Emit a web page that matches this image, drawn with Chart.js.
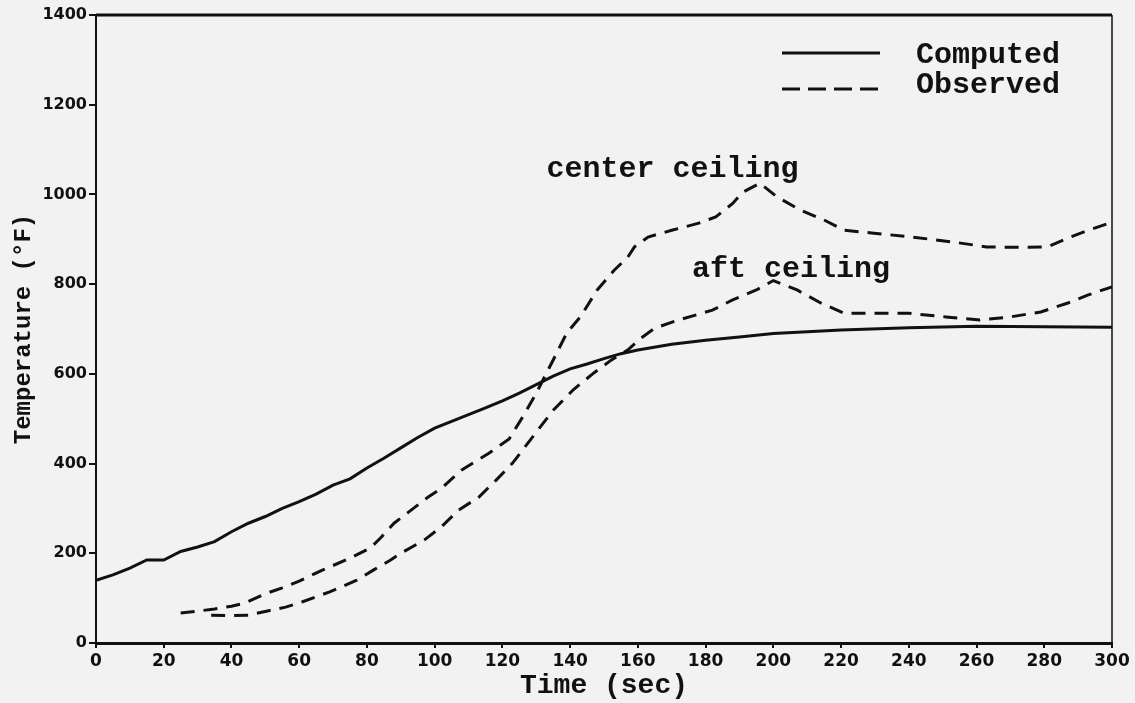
<!DOCTYPE html>
<html>
<head>
<meta charset="utf-8">
<script src="https://cdn.jsdelivr.net/npm/chart.js@4.4.1/dist/chart.umd.min.js"></script>
<style>
  html, body { margin: 0; padding: 0; background: #f2f2f2; }
  canvas { display: block; }
</style>
</head>
<body>
<canvas id="fireChart" width="1135" height="703"></canvas>
<script>
// computed ceiling temperature
var computedTime = [0, 5, 10, 15, 20, 25, 30, 35, 40, 45, 50, 55, 60, 65, 70, 75, 80, 85, 90, 95, 100,
  105, 110, 115, 120, 125, 130, 135, 140, 145, 150, 155, 160, 170, 180, 190, 200, 210, 220, 240, 260, 280, 300];
var computedTemp = [140, 152, 167, 185, 185, 204, 214, 226, 248, 267, 282, 300, 315, 332, 352, 366, 390, 412, 435, 458, 479,
  494, 509, 524, 540, 557, 576, 595, 611, 622, 634, 645, 653, 666, 675, 682, 690, 694, 698, 703, 706, 705, 704];

// observed, center ceiling
var centerTime = [25, 30, 35, 40, 44, 50, 55, 60, 67, 75, 81, 84, 88, 92, 98, 102, 108, 116, 122, 126, 130, 135,
  139, 143, 148, 153, 157, 159, 163, 170, 178, 183, 188, 191, 196, 201, 208, 215, 221, 229, 241, 253, 263, 273,
  281, 287, 293, 300];
var centerTemp = [67, 71, 76, 82, 89, 110, 123, 138, 163, 189, 212, 234, 267, 290, 325, 345, 386, 423, 455, 504, 557, 631,
  691, 727, 787, 831, 860, 883, 905, 920, 936, 950, 980, 1005, 1025, 995, 965, 943, 920, 914, 905, 894, 883, 882,
  883, 903, 920, 938];

// observed, aft ceiling
var aftTime = [34, 40, 45, 51, 56, 61, 69, 77, 82, 87, 90, 97, 102, 107, 113, 118, 123, 129, 135, 141, 147, 152,
  157, 161, 165, 172, 182, 188, 195, 200, 207, 214, 221, 229, 240, 251, 261, 270, 279, 287, 293, 300];
var aftTemp = [62, 61, 62, 72, 80, 92, 114, 140, 163, 185, 200, 230, 259, 296, 325, 362, 401, 460, 519, 565, 602, 630,
  653, 680, 702, 720, 742, 765, 787, 808, 787, 758, 735, 735, 735, 727, 720, 727, 738, 758, 776, 794];

var xTickValues = [0, 20, 40, 60, 80, 100, 120, 140, 160, 180, 200, 220, 240, 260, 280, 300];
var yTickValues = [0, 200, 400, 600, 800, 1000, 1200, 1400];

var legendLabels = ['Computed', 'Observed'];
var curveNotes = [
  { text: 'center ceiling', x: 133, y: 1039 },
  { text: 'aft ceiling', x: 176, y: 816 }
];

var ink = '#111111';
var monoFont = '"Liberation Mono", "DejaVu Sans Mono", monospace';

function toPoints(xs, ys) {
  return xs.map(function (x, i) { return { x: x, y: ys[i] }; });
}

function plainNumber(value) {
  return String(value);
}

// frame top/right edges, curve labels and the line key
var frameAndNotes = {
  id: 'frameAndNotes',
  afterDatasetsDraw: function (chart) {
    var ctx = chart.ctx;
    var area = chart.chartArea;
    var xs = chart.scales.x;
    var ys = chart.scales.y;
    ctx.save();
    ctx.strokeStyle = ink;
    ctx.lineWidth = 3;
    ctx.beginPath();
    ctx.moveTo(area.left, area.top);
    ctx.lineTo(area.right, area.top);
    ctx.stroke();
    ctx.lineWidth = 1.5;
    ctx.beginPath();
    ctx.moveTo(area.right, area.top);
    ctx.lineTo(area.right, area.bottom);
    ctx.stroke();

    ctx.fillStyle = ink;
    ctx.font = 'bold 30px ' + monoFont;
    ctx.textBaseline = 'alphabetic';
    ctx.textAlign = 'left';
    curveNotes.forEach(function (n) {
      ctx.fillText(n.text, xs.getPixelForValue(n.x), ys.getPixelForValue(n.y));
    });

    // key
    var keyLeft = area.right - 330;
    var keyRight = keyLeft + 98;
    var textX = area.right - 196;
    ctx.lineWidth = 3;
    ctx.setLineDash([]);
    ctx.beginPath();
    ctx.moveTo(keyLeft, area.top + 38);
    ctx.lineTo(keyRight, area.top + 38);
    ctx.stroke();
    ctx.setLineDash([18, 8]);
    ctx.beginPath();
    ctx.moveTo(keyLeft, area.top + 74);
    ctx.lineTo(keyRight, area.top + 74);
    ctx.stroke();
    ctx.setLineDash([]);
    ctx.fillText(legendLabels[0], textX, area.top + 48);
    ctx.fillText(legendLabels[1], textX, area.top + 78);
    ctx.restore();
  }
};

var ctx = document.getElementById('fireChart').getContext('2d');
var chart = new Chart(ctx, {
  type: 'line',
  data: {
    datasets: [{
      label: legendLabels[0],
      data: toPoints(computedTime, computedTemp),
      borderColor: ink,
      borderWidth: 3,
      pointRadius: 0,
      tension: 0
    }, {
      label: legendLabels[1] + ' (center ceiling)',
      data: toPoints(centerTime, centerTemp),
      borderColor: ink,
      borderWidth: 3,
      borderDash: [14, 9],
      pointRadius: 0,
      tension: 0
    }, {
      label: legendLabels[1] + ' (aft ceiling)',
      data: toPoints(aftTime, aftTemp),
      borderColor: ink,
      borderWidth: 3,
      borderDash: [14, 9],
      pointRadius: 0,
      tension: 0
    }]
  },
  options: {
    responsive: false,
    animation: false,
    devicePixelRatio: 1,
    layout: { padding: { top: 15, right: 23, left: 0, bottom: 0 } },
    plugins: {
      legend: { display: false },
      tooltip: { enabled: false }
    },
    scales: {
      x: {
        type: 'linear',
        min: 0,
        max: 300,
        afterBuildTicks: function (scale) {
          scale.ticks = xTickValues.map(function (v) { return { value: v }; });
        },
        afterFit: function (scale) { scale.height = 60; },
        grid: { drawOnChartArea: false, drawTicks: true, tickLength: 5, color: ink, lineWidth: 2 },
        border: { display: true, color: ink, width: 3 },
        ticks: {
          color: ink,
          font: { family: '"DejaVu Sans", sans-serif', size: 17, weight: 'bold' },
          padding: 3,
          maxRotation: 0,
          callback: plainNumber
        },
        title: {
          display: true,
          text: 'Time (sec)',
          color: ink,
          font: { family: monoFont, size: 28, weight: 'bold' },
          padding: { top: 0, bottom: 0 }
        }
      },
      y: {
        type: 'linear',
        min: 0,
        max: 1400,
        afterBuildTicks: function (scale) {
          scale.ticks = yTickValues.map(function (v) { return { value: v }; });
        },
        afterFit: function (scale) { scale.width = 96; },
        grid: { drawOnChartArea: false, drawTicks: true, tickLength: 7, color: ink, lineWidth: 2 },
        border: { display: true, color: ink, width: 2 },
        ticks: {
          color: ink,
          font: { family: '"DejaVu Sans", sans-serif', size: 16, weight: 'bold' },
          padding: 2,
          callback: plainNumber
        },
        title: {
          display: true,
          text: 'Temperature (°F)',
          color: ink,
          font: { family: monoFont, size: 24, weight: 'bold' },
          padding: { top: 10, bottom: 0 }
        }
      }
    }
  },
  plugins: [frameAndNotes]
});
</script>
</body>
</html>
